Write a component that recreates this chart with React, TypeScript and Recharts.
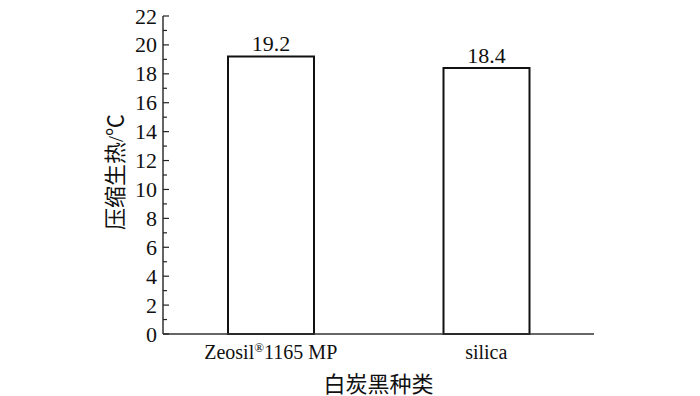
import React from 'react'
import { BarChart, Bar, XAxis, YAxis, LabelList } from 'recharts'

const categories = ['Zeosil®1165 MP', 'silica']
const heatValues = [19.2, 18.4]
const yTicks = [0, 1, 2, 3, 4, 5, 6, 7, 8, 9, 10, 11, 12, 13, 14, 15, 16, 17, 18, 19, 20, 21, 22]

const FONT = "'Liberation Serif', 'Noto Sans CJK SC', serif"
const LATIN = 'Liberation Serif'

const data = categories.map((name, i) => ({ name, value: heatValues[i] }))

const YTick = (props: any) => {
  const { x, y, payload } = props
  const axisX = x + 6
  const major = payload.value % 2 === 0
  return (
    <g>
      <line x1={axisX} x2={axisX + (major ? 6 : 4)} y1={y} y2={y} stroke="#222" strokeWidth={1.2} />
      {major && (
        <text x={x} y={y + 7.5} textAnchor="end" fill="#111" style={{ fontFamily: LATIN, fontSize: '22px' }}>
          {String(payload.value)}
        </text>
      )}
    </g>
  )
}

const XTick = (props: any) => {
  const { x, y, payload } = props
  const parts = String(payload.value).split('®')
  return (
    <text x={x} y={y + 25} textAnchor="middle" fill="#111" style={{ fontFamily: LATIN, fontSize: '20px' }}>
      {parts.length > 1 ? (
        <>
          <tspan>{parts[0]}</tspan>
          <tspan dy={-7} style={{ fontSize: '13px' }}>®</tspan>
          <tspan dy={7}>{parts[1]}</tspan>
        </>
      ) : (
        parts[0]
      )}
    </text>
  )
}

const XLabel = (props: any) => {
  const { viewBox } = props
  return (
    <text x={viewBox.x + viewBox.width / 2} y={392} textAnchor="middle" fill="#111" style={{ fontFamily: FONT, fontSize: '22px' }}>
      白炭黑种类
    </text>
  )
}

const YLabel = (props: any) => {
  const { viewBox } = props
  const cx = viewBox.x + 123
  const cy = viewBox.y + viewBox.height / 2 - 3
  return (
    <text
      x={cx}
      y={cy}
      transform={`rotate(-90, ${cx}, ${cy})`}
      textAnchor="middle"
      fill="#111"
      style={{ fontFamily: FONT, fontSize: '22px' }}
    >
      压缩生热/℃
    </text>
  )
}

const ValueLabel = (props: any) => {
  const { x, y, width, value } = props
  return (
    <text x={x + width / 2} y={y - 5} textAnchor="middle" fill="#111" style={{ fontFamily: LATIN, fontSize: '22px' }}>
      {String(value)}
    </text>
  )
}

export default function App() {
  return (
    <div style={{ position: 'absolute', left: 0, top: 0, width: 700, height: 396, background: '#fff', fontFamily: LATIN }}>
      <BarChart
        width={700}
        height={396}
        data={data}
        margin={{ top: 16, right: 106, bottom: 0, left: 0 }}
        barCategoryGap="30%"
        style={{ overflow: 'visible' }}
      >
        <XAxis
          dataKey="name"
          height={62}
          tick={<XTick />}
          tickLine={false}
          tickSize={0}
          tickMargin={0}
          axisLine={{ stroke: '#333', strokeWidth: 1.5 }}
          label={<XLabel />}
        />
        <XAxis xAxisId="top" dataKey="name" orientation="top" height={0} tick={false} tickLine={false} axisLine={{ stroke: '#333', strokeWidth: 1.5 }} />
        <YAxis
          width={163}
          domain={[0, 22]}
          ticks={yTicks}
          interval={0}
          tick={<YTick />}
          tickLine={false}
          tickSize={0}
          tickMargin={6}
          axisLine={{ stroke: '#333', strokeWidth: 1.5 }}
          label={<YLabel />}
        />
        <YAxis yAxisId="right" orientation="right" width={0} domain={[0, 22]} tick={false} tickLine={false} axisLine={{ stroke: '#333', strokeWidth: 1.5 }} />
        <Bar dataKey="value" fill="#fff" stroke="#111" strokeWidth={2} barSize={86} isAnimationActive={false}>
          <LabelList dataKey="value" content={<ValueLabel />} />
        </Bar>
      </BarChart>
    </div>
  )
}
